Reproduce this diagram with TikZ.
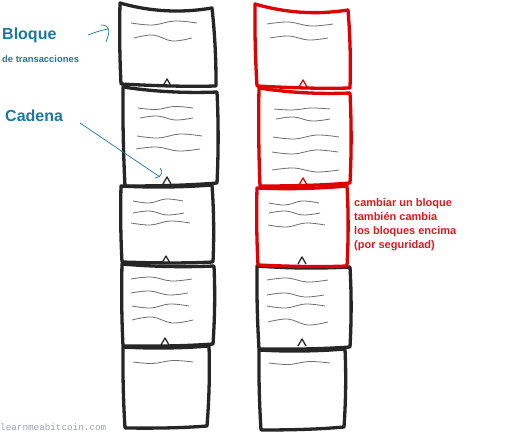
\documentclass[tikz,border=0pt]{standalone}
\usepackage{fontspec}
\usetikzlibrary{calc}
\setmainfont{Liberation Sans}
\newfontfamily\wmfont{Liberation Mono}
\definecolor{bluelbl}{HTML}{1B78A3}
\definecolor{redblk}{HTML}{E00000}
\definecolor{redtxt}{HTML}{E0191E}
\definecolor{blk}{HTML}{262626}
\definecolor{scrgray}{HTML}{6E6E6E}
\definecolor{wmgray}{HTML}{9EA3AD}
\tikzset{
  blkbox/.style={draw=blk, line width=3.3pt, line join=round, line cap=round},
  redbox/.style={draw=redblk, line width=3.3pt, line join=round, line cap=round},
  scr/.style={draw=scrgray, line width=0.8pt},
  hatb/.style={draw=blk, line width=1.3pt, line join=round},
  hatr/.style={draw=redblk, line width=1.3pt, line join=round},
  lblarrow/.style={draw=bluelbl, line width=0.7pt},
  bigl/.style={font=\fontsize{16}{19}\selectfont\bfseries, text=bluelbl, inner sep=0pt, anchor=base west},
  redl/.style={font=\fontsize{11}{14}\selectfont\bfseries, text=redtxt, inner sep=0pt, anchor=base west},
}
\newcommand\scrib[4]{\draw[scr] plot[smooth,tension=0.6] coordinates {(#1,#3) ({#1+0.33*(#2-#1)},{#3+#4}) ({#1+0.66*(#2-#1)},{#3-#4}) (#2,#3)};}
% #1 style, #2 TL, #3 TR, #4 BR, #5 BL, #6 top sag
\newcommand\blockp[6]{\draw[#1] (#2)
  .. controls ($(#2)!0.33!(#3)+(0,#6)$) and ($(#2)!0.66!(#3)+(0,#6)$) .. (#3)
  .. controls ($(#3)!0.33!(#4)+(1.5,0)$) and ($(#3)!0.66!(#4)+(1.5,0)$) .. (#4)
  .. controls ($(#4)!0.33!(#5)+(0,1.5)$) and ($(#4)!0.66!(#5)+(0,1)$) .. (#5)
  .. controls ($(#5)!0.33!(#2)+(-1,0)$) and ($(#5)!0.66!(#2)+(-1,0)$) .. cycle;}
\newcommand\linkhat[3]{\draw[#1] ({#2-4},{#3+7}) -- (#2,#3) -- ({#2+4},{#3+7});}
\begin{document}
\begin{tikzpicture}[x=1pt,y=-1pt]
\useasboundingbox[fill=white] (0,0) rectangle (515,433);
% left column
\blockp{blkbox}{120,3}{212,8}{216,86}{121,84}{7}
\blockp{blkbox}{123,87}{217,92}{217,183}{125,186}{3}
\blockp{blkbox}{121,186}{212,185}{213,262}{122,262}{2}
\blockp{blkbox}{122,264}{214,266}{213,344}{123,346}{2}
\blockp{blkbox}{123,347}{209,346}{207,426}{125,428}{2}
\linkhat{hatb}{167}{79}
\linkhat{hatb}{167}{177}
\linkhat{hatb}{166}{256}
\linkhat{hatb}{165}{338}
% right column
\blockp{blkbox}{257,266}{350,267}{350,347}{259,349}{2}
\blockp{blkbox}{259,350}{345,349}{344,427}{261,430}{2}
\blockp{redbox}{257,188}{347,186}{347,266}{258,265}{2}
\blockp{redbox}{259,88}{350,93}{350,183}{260,186}{3}
\blockp{redbox}{255,4}{348,10}{350,88}{257,86}{7}
\linkhat{hatr}{303}{80}
\linkhat{hatr}{303}{178}
\linkhat{hatb}{302}{257}
\linkhat{hatb}{302}{339}
% scribbles left
\scrib{131}{197}{23}{2}
\scrib{134}{192}{38}{-3}
\scrib{138}{193}{108}{1.5}
\scrib{140}{193}{118}{-2}
\scrib{137}{202}{136}{2}
\scrib{136}{200}{149}{-2}
\scrib{133}{183}{201}{2}
\scrib{133}{184}{213}{-2}
\scrib{131}{190}{223}{2}
\scrib{131}{192}{279}{-2}
\scrib{131}{188}{293}{-2}
\scrib{132}{189}{306}{2}
\scrib{132}{193}{320}{-3}
\scrib{133}{193}{362}{1.5}
% scribbles right
\scrib{267}{333}{24}{-2}
\scrib{270}{328}{38}{-2}
\scrib{274}{330}{109}{1}
\scrib{276}{330}{119}{-2}
\scrib{273}{339}{137}{2}
\scrib{272}{338}{152}{2}
\scrib{272}{339}{170}{-2}
\scrib{269}{319}{203}{2}
\scrib{269}{320}{213}{-2}
\scrib{268}{325}{225}{2}
\scrib{267}{328}{280}{-2}
\scrib{267}{324}{295}{-2}
\scrib{267}{325}{306}{2}
\scrib{268}{328}{322}{-3}
\scrib{269}{330}{363}{1.5}
% labels
\node[bigl] (bloque) at (2,40) {Bloque};
\node[font=\fontsize{9.4}{11}\selectfont\bfseries, text=bluelbl, inner sep=0pt, anchor=base west] (detx) at (2,63) {de transacciones};
\node[bigl] (cadena) at (5,122) {Cadena};
\coordinate (ba1) at (88,35);
\coordinate (ba2) at (108,29);
\coordinate (ca1) at (80,123);
\coordinate (ca2) at (160,177);
\draw[lblarrow] (ba1) .. controls (96,32) and (102,30) .. (ba2);
\draw[lblarrow] (101,25) .. controls (111,25) and (110,32) .. (106,42);
\draw[lblarrow] (ca1) -- (ca2);
\draw[lblarrow] (160,168) .. controls (163,172) and (163,176) .. (155,178);
% red text
\node[redl] (r1) at (354,207) {cambiar un bloque};
\node[redl] (r2) at (354,221) {también cambia};
\node[redl] (r3) at (354,235) {los bloques encima};
\node[redl] (r4) at (354,249) {(por seguridad)};
% watermark
\node[font=\wmfont\fontsize{9.3}{10}\selectfont, text=wmgray, inner sep=0pt, anchor=base west] (wm) at (0,431) {learnmeabitcoin.com};
\end{tikzpicture}
\end{document}
